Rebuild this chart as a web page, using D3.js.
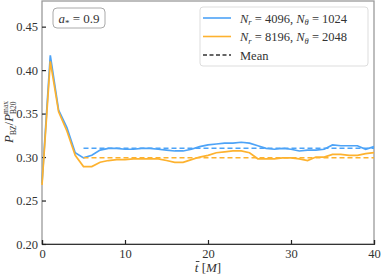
<!DOCTYPE html>
<html>
<head>
<meta charset="UTF-8">
<script src="https://d3js.org/d3.v7.min.js"></script>
<style>
  body { margin: 0; background: #fff; }
  text { font-family: "Liberation Serif", "DejaVu Serif", serif; }
</style>
</head>
<body>
<div id="chart"></div>
<script>
// time in M
var times = [0,1,2,3,4,5,6,7,8,9,10,11,12,13,14,15,16,17,18,19,20,
             21,22,23,24,25,26,27,28,29,30,31,32,33,34,35,36,37,38,39,40];
// N_r=4096 run
var lowRes = [0.270,0.417,0.354,0.334,0.305,0.299,0.302,0.308,0.310,0.310,0.309,
              0.309,0.310,0.310,0.309,0.308,0.307,0.307,0.309,0.312,0.314,
              0.315,0.316,0.316,0.317,0.316,0.313,0.310,0.309,0.310,0.309,
              0.307,0.308,0.308,0.309,0.314,0.313,0.313,0.313,0.309,0.312];
// N_r=8196 run
var highRes = [0.268,0.410,0.352,0.330,0.302,0.289,0.289,0.294,0.296,0.297,0.297,
               0.298,0.298,0.298,0.298,0.296,0.294,0.294,0.297,0.300,0.302,
               0.305,0.306,0.307,0.307,0.305,0.298,0.298,0.298,0.299,0.299,
               0.298,0.296,0.300,0.300,0.303,0.303,0.302,0.302,0.304,0.305];
var meanLow = 0.310, meanHigh = 0.2992;
var meanRange = [5, 40];
var xTicks = [0,10,20,30,40];
var yTicks = [0.20,0.25,0.30,0.35,0.40,0.45];

var W = 381, H = 275;
var m = {top:1, right:7, bottom:31, left:42};
var blue = "#4da3f7", orange = "#fdb22f";

var svg = d3.select("#chart").append("svg").attr("width",W).attr("height",H);

var x = d3.scaleLinear().domain([0,40]).range([m.left, W-m.right]);
var y = d3.scaleLinear().domain([0.2,0.4795]).range([H-m.bottom, m.top]);

// frame
svg.append("rect")
  .attr("x",m.left).attr("y",m.top)
  .attr("width",W-m.left-m.right).attr("height",H-m.top-m.bottom)
  .attr("fill","none").attr("stroke","#9a9a9a").attr("stroke-width",1.3);

// axes
var xa = svg.append("g").attr("transform","translate(0,"+(H-m.bottom)+")")
  .call(d3.axisBottom(x).tickValues(xTicks).tickSize(-4).tickPadding(5).tickFormat(d3.format("d")));
var ya = svg.append("g").attr("transform","translate("+m.left+",0)")
  .call(d3.axisLeft(y).tickValues(yTicks).tickSize(-4).tickPadding(4).tickFormat(d3.format(".2f")));
ya.select(".domain").remove();
xa.select(".domain").attr("stroke","#333").attr("stroke-width",1.2);
[xa, ya].forEach(function(a){
  a.selectAll(".tick line").attr("stroke","#222").attr("stroke-width",1.2);
  a.selectAll(".tick text").attr("font-family","Liberation Serif").attr("font-size",12.5).attr("fill","#333");
});

// lines
var line = d3.line().x(function(d,i){return x(times[i]);}).y(function(d){return y(d);});
svg.append("path").datum(lowRes).attr("d",line).attr("fill","none")
  .attr("stroke",blue).attr("stroke-width",1.7);
svg.append("path").datum(highRes).attr("d",line).attr("fill","none")
  .attr("stroke",orange).attr("stroke-width",1.7);

// mean lines
[[meanLow,blue],[meanHigh,orange]].forEach(function(p){
  svg.append("line")
    .attr("x1",x(meanRange[0])).attr("x2",x(meanRange[1]))
    .attr("y1",y(p[0])).attr("y2",y(p[0]))
    .attr("stroke",p[1]).attr("stroke-width",1.5).attr("stroke-dasharray","5,3");
});

// a* box
svg.append("rect").attr("x",53).attr("y",8).attr("width",52).attr("height",20)
  .attr("rx",4).attr("fill","#fff").attr("stroke","#aaa").attr("stroke-width",1);
var at = svg.append("text").attr("x",79).attr("y",23).attr("text-anchor","middle")
  .attr("font-size",13).attr("fill","#333");
at.append("tspan").attr("font-style","italic").text("a");
at.append("tspan").attr("font-size",9).attr("dy",3).text("*");
at.append("tspan").attr("dy",-3).text(" = 0.9");

// legend
var lg = svg.append("g");
lg.append("rect").attr("x",200).attr("y",7).attr("width",168).attr("height",59)
  .attr("rx",3).attr("fill","#fff").attr("stroke","#ddd").attr("stroke-width",1);
var items = [
  {c:blue, dash:null, nr:"4096", nt:"1024"},
  {c:orange, dash:null, nr:"8196", nt:"2048"},
  {c:"#333", dash:"4,2.5", label:"Mean"}
];
items.forEach(function(it,i){
  var yy = 18 + i*18.5;
  lg.append("line").attr("x1",203).attr("x2",231).attr("y1",yy).attr("y2",yy)
    .attr("stroke",it.c).attr("stroke-width",1.6).attr("stroke-dasharray",it.dash);
  var t = lg.append("text").attr("x",240).attr("y",yy+4.5).attr("font-size",12.5).attr("fill","#333");
  if (it.label) { t.text(it.label); return; }
  t.append("tspan").attr("font-style","italic").text("N");
  t.append("tspan").attr("font-style","italic").attr("font-size",8.5).attr("dy",2.5).text("r");
  t.append("tspan").attr("dy",-2.5).text(" = "+it.nr+", ");
  t.append("tspan").attr("font-style","italic").text("N");
  t.append("tspan").attr("font-style","italic").attr("font-size",8.5).attr("dy",2.5).text("θ");
  t.append("tspan").attr("dy",-2.5).text(" = "+it.nt);
});

// x label (bar over t drawn as a short line)
var xl = svg.append("text").attr("x",208).attr("y",272).attr("text-anchor","middle")
  .attr("font-size",13).attr("fill","#333");
xl.append("tspan").attr("font-style","italic").text("t");
xl.append("tspan").text(" [");
xl.append("tspan").attr("font-style","italic").text("M");
xl.append("tspan").text("]");
var tb = xl.node().getExtentOfChar(0);
svg.append("line").attr("x1",tb.x+1).attr("x2",tb.x+tb.width+1)
  .attr("y1",tb.y+1.5).attr("y2",tb.y+1.5)
  .attr("stroke","#333").attr("stroke-width",0.9);

// y label
var yl = svg.append("text").attr("transform","translate(13,122) rotate(-90)")
  .attr("text-anchor","middle").attr("font-size",13).attr("fill","#333");
yl.append("tspan").attr("font-style","italic").text("P");
yl.append("tspan").attr("font-size",7.5).attr("dy",3).text("BZ");
yl.append("tspan").attr("dy",-3).text("/");
yl.append("tspan").attr("font-style","italic").text("P");
yl.append("tspan").attr("font-size",7.5).attr("dy",-5).text("max");
yl.append("tspan").attr("font-size",7.5).attr("dy",8).attr("dx",-13).text("B20");
</script>
</body>
</html>
